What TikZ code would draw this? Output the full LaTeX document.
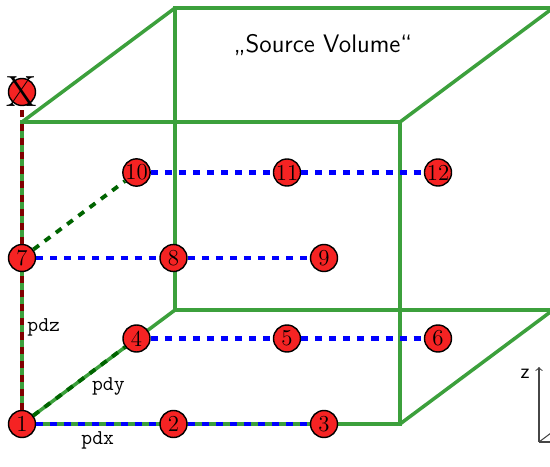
\documentclass[tikz,border=0pt]{standalone}
\usepackage{fontspec}
\definecolor{cubegreen}{RGB}{60,160,60}
\definecolor{ydash}{RGB}{0,100,0}
\definecolor{zdash}{RGB}{128,0,0}
\definecolor{ptred}{RGB}{245,35,35}
\definecolor{axisgray}{RGB}{70,70,70}
\tikzset{
    pt/.style={circle, draw=black, thick, fill=ptred, minimum size=0.54cm, inner sep=0pt, font=\fontsize{13}{15}\selectfont},
    edge/.style={cubegreen, line width=2pt},
    xline/.style={blue, line width=2.4pt, dash pattern=on 4pt off 4pt},
    yline/.style={ydash, line width=2.2pt, dash pattern=on 4pt off 4pt},
    zline/.style={zdash, line width=2.2pt, dash pattern=on 4pt off 4pt},
    lbl/.style={font=\ttfamily\large, text=black},
    axis/.style={axisgray, line width=0.6pt, ->}
}
\begin{document}
\begin{tikzpicture}
        \clip (-0.44,-0.84) rectangle (10.56,8.48);
        % cube
            \draw[edge] (0,0) rectangle (7.56,6.04);
            \draw[edge] (3.06,2.28) rectangle (10.62,8.32);
            \foreach \x/\y in {0/0,7.56/0,7.56/6.04,0/6.04}{
                \draw[edge] (\x,\y) -- ++(3.06,2.28);
            }
        % points
            \foreach \n/\x/\y in {1/0/0,2/3.03/0,3/6.04/0,4/2.29/1.71,5/5.30/1.71,6/8.32/1.71,
                                  7/0/3.32,8/3.03/3.32,9/6.04/3.32,10/2.29/5.03,11/5.30/5.03,12/8.32/5.03}{
                \node[pt] (n\n) at (\x,\y) {\n};
            }
            \node[pt, label={center:\Huge X}] (nX) at (0,6.64) {};
        % steps
            \draw[xline] (n1) -- node[lbl, below] {pdx} (n2) -- (n3);
            \draw[yline] (n1) -- node[lbl, below right, pos=0.6, inner sep=1pt] {pdy} (n4);
            \draw[zline] (n1) -- node[lbl, right, pos=0.6, inner sep=2pt] {pdz} (n7) -- (nX);
            \draw[yline] (n7) -- (n10);
            \foreach \a/\b/\c in {4/5/6,7/8/9,10/11/12}{
                \draw[xline] (n\a) -- (n\b) -- (n\c);
            }
        % labels
            \node[font=\sffamily\Large] (title) at (6.02,7.58) {„Source Volume“};
            \coordinate (o) at (10.34,-0.36);
            \draw[axis] (o) -- ++(0,1.5) node[anchor=north east, inner xsep=5pt, inner ysep=1pt, font=\sffamily\large, black] (zlbl) {z};
            \draw[axis] (o) -- ++(1,0);
            \draw[axis] (o) -- ++(0.8,0.6);
\end{tikzpicture}
\end{document}
